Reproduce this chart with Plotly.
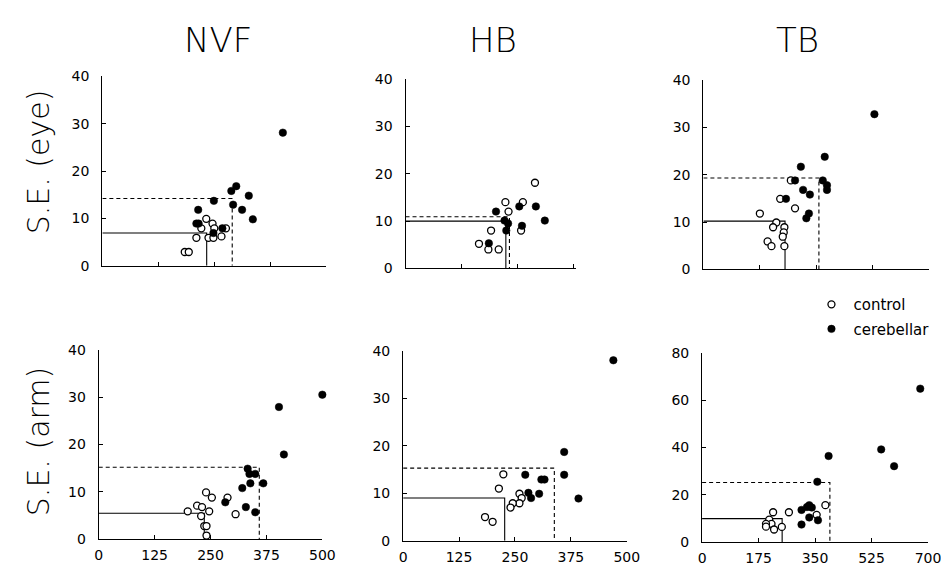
import plotly.graph_objects as go

# ---------------- data ----------------
col_titles = ["NVF", "HB", "TB"]
row_titles = ["S.E. (eye)", "S.E. (arm)"]

# NVF, eye
nvf_eye_ctrl_x = [232, 246, 221, 250, 276, 266, 210, 237, 248, 184, 193]
nvf_eye_ctrl_y = [9.9, 8.9, 7.9, 7.9, 7.9, 6.2, 5.9, 5.9, 5.9, 2.9, 2.9]
nvf_eye_cer_x = [403, 299, 288, 327, 249, 292, 312, 214, 336, 210, 215, 268, 248]
nvf_eye_cer_y = [28.1, 16.8, 15.8, 14.8, 13.7, 12.9, 11.8, 11.8, 9.8, 8.9, 8.9, 7.9, 6.9]
nvf_eye_ctrl_mean = [233, 6.9]
nvf_eye_cer_mean = [290, 14.2]

# HB, eye
hb_eye_ctrl_x = [289, 223, 262, 230, 191, 258, 164, 185, 208]
hb_eye_ctrl_y = [18.1, 14.0, 14.0, 12.0, 8.0, 8.0, 5.2, 4.0, 4.0]
hb_eye_cer_x = [202, 254, 291, 311, 221, 229, 260, 225, 186]
hb_eye_cer_y = [12.0, 13.1, 13.1, 10.1, 10.1, 9.5, 9.0, 8.0, 5.3]
hb_eye_ctrl_mean = [224, 10.0]
hb_eye_cer_mean = [232, 10.9]

# TB, eye
tb_eye_ctrl_x = [271, 238, 284, 175, 226, 216, 251, 249, 246, 199, 211, 251]
tb_eye_ctrl_y = [18.8, 14.9, 12.9, 11.8, 9.9, 8.9, 8.9, 7.8, 6.9, 5.9, 4.9, 4.9]
tb_eye_cer_x = [530, 376, 302, 284, 370, 383, 383, 309, 330, 256, 327, 319]
tb_eye_cer_y = [32.8, 23.8, 21.7, 18.8, 18.8, 17.8, 16.8, 16.8, 15.8, 14.9, 11.8, 10.8]
tb_eye_ctrl_mean = [253, 10.2]
tb_eye_cer_mean = [358, 19.3]

# NVF, arm
nvf_arm_ctrl_x = [240, 253, 288, 220, 231, 199, 247, 229, 306, 236, 241, 241]
nvf_arm_ctrl_y = [9.9, 8.8, 8.8, 7.1, 6.8, 5.9, 5.9, 4.9, 5.3, 2.8, 2.8, 0.8]
nvf_arm_cer_x = [500, 403, 414, 333, 337, 350, 339, 368, 321, 283, 329, 350]
nvf_arm_cer_y = [30.5, 27.9, 17.9, 14.9, 13.8, 13.8, 11.8, 11.8, 10.8, 7.8, 6.8, 5.7]
nvf_arm_ctrl_mean = [236, 5.5]
nvf_arm_cer_mean = [359, 15.2]

# HB, arm
hb_arm_ctrl_x = [224, 214, 260, 265, 260, 245, 240, 183, 200]
hb_arm_ctrl_y = [14.0, 11.0, 9.9, 9.0, 7.9, 7.9, 7.0, 5.0, 4.0]
hb_arm_cer_x = [470, 360, 360, 392, 273, 309, 316, 280, 304, 286]
hb_arm_cer_y = [38.0, 18.7, 13.9, 8.9, 13.9, 12.9, 12.9, 10.1, 9.9, 9.0]
hb_arm_ctrl_mean = [227, 9.0]
hb_arm_cer_mean = [338, 15.3]

# TB, arm
tb_arm_ctrl_x = [382, 355, 220, 208, 215, 198, 198, 223, 247, 269]
tb_arm_ctrl_y = [15.6, 11.5, 12.6, 9.5, 7.7, 7.7, 6.5, 5.3, 6.4, 12.6]
tb_arm_cer_x = [676, 555, 595, 392, 357, 325, 332, 340, 308, 332, 359, 308]
tb_arm_cer_y = [64.9, 39.2, 32.1, 36.4, 25.5, 14.8, 15.6, 14.6, 13.6, 10.4, 9.2, 7.4]
tb_arm_ctrl_mean = [248, 9.9]
tb_arm_cer_mean = [396, 25.2]

nvf_xticks = [0, 125, 250, 375, 500]
hb_xticks = [0, 125, 250, 375, 500]
tb_xticks = [0, 175, 350, 525, 700]
se_ticks_40 = [0, 10, 20, 30, 40]
se_ticks_80 = [0, 20, 40, 60, 80]

# ---------------- layout helpers ----------------
W, H = 949, 568

def fx(px):
    return px / W

def fy(py):
    return 1 - py / H

panels = [
    dict(ctrl=(nvf_eye_ctrl_x, nvf_eye_ctrl_y), cer=(nvf_eye_cer_x, nvf_eye_cer_y),
         cm=nvf_eye_ctrl_mean, dm=nvf_eye_cer_mean,
         xpx=(92, 320), ypx=(257, 62), xr=[0, 500], yr=[0, 40],
         xt=nvf_xticks, yt=se_ticks_40, xl=False),
    dict(ctrl=(hb_eye_ctrl_x, hb_eye_ctrl_y), cer=(hb_eye_cer_x, hb_eye_cer_y),
         cm=hb_eye_ctrl_mean, dm=hb_eye_cer_mean,
         xpx=(400.7, 574), ypx=(259.7, 65), xr=[0, 380], yr=[0, 40],
         xt=hb_xticks, yt=se_ticks_40, xl=False),
    dict(ctrl=(tb_eye_ctrl_x, tb_eye_ctrl_y), cer=(tb_eye_cer_x, tb_eye_cer_y),
         cm=tb_eye_ctrl_mean, dm=tb_eye_cer_mean,
         xpx=(704, 934), ypx=(260.7, 66), xr=[0, 700], yr=[0, 40],
         xt=tb_xticks, yt=se_ticks_40, xl=False),
    dict(ctrl=(nvf_arm_ctrl_x, nvf_arm_ctrl_y), cer=(nvf_arm_cer_x, nvf_arm_cer_y),
         cm=nvf_arm_ctrl_mean, dm=nvf_arm_cer_mean,
         xpx=(88.3, 316), ypx=(538.5, 343.3), xr=[0, 500], yr=[0, 40],
         xt=nvf_xticks, yt=se_ticks_40, xl=True),
    dict(ctrl=(hb_arm_ctrl_x, hb_arm_ctrl_y), cer=(hb_arm_cer_x, hb_arm_cer_y),
         cm=hb_arm_ctrl_mean, dm=hb_arm_cer_mean,
         xpx=(398.3, 626), ypx=(540, 344.5), xr=[0, 500], yr=[0, 40],
         xt=hb_xticks, yt=se_ticks_40, xl=True),
    dict(ctrl=(tb_arm_ctrl_x, tb_arm_ctrl_y), cer=(tb_arm_cer_x, tb_arm_cer_y),
         cm=tb_arm_ctrl_mean, dm=tb_arm_cer_mean,
         xpx=(702.7, 932.7), ypx=(541.3, 346.7), xr=[0, 700], yr=[0, 80],
         xt=tb_xticks, yt=se_ticks_80, xl=True),
]

TICKFONT = dict(family="DejaVu Sans", size=14, color="black")
LIGHT = "DejaVu Sans ExtraLight, DejaVu Sans"
fig = go.Figure()
layout = {}

for i, p in enumerate(panels):
    n = "" if i == 0 else str(i + 1)
    xa, ya = "x" + n, "y" + n
    # mean lines (solid = control, dashed = cerebellar)
    for m, dash in ((p["cm"], "solid"), (p["dm"], "4px,3px")):
        fig.add_trace(go.Scatter(
            x=[0, m[0], m[0]], y=[m[1], m[1], 0], mode="lines",
            line=dict(color="black", width=1.1, dash=dash),
            xaxis=xa, yaxis=ya, showlegend=False, hoverinfo="skip"))
    fig.add_trace(go.Scatter(
        x=p["ctrl"][0], y=p["ctrl"][1], mode="markers", name="control",
        marker=dict(symbol="circle", size=7, color="white",
                    line=dict(color="black", width=1.3)),
        xaxis=xa, yaxis=ya, cliponaxis=False,
        showlegend=(i == 0), legendgroup="control"))
    fig.add_trace(go.Scatter(
        x=p["cer"][0], y=p["cer"][1], mode="markers", name="cerebellar",
        marker=dict(symbol="circle", size=7.5, color="black",
                    line=dict(color="black", width=0.5)),
        xaxis=xa, yaxis=ya, cliponaxis=False,
        showlegend=(i == 0), legendgroup="cerebellar"))

    layout["xaxis" + n] = dict(
        domain=[fx(p["xpx"][0]), fx(p["xpx"][1])], range=p["xr"], anchor=ya,
        showline=True, linecolor="black", linewidth=1.2, showgrid=False, zeroline=False,
        tickmode="array", tickvals=p["xt"], ticks="inside", ticklen=4, tickcolor="black",
        showticklabels=p["xl"], tickfont=TICKFONT, ticklabelstandoff=3)
    layout["yaxis" + n] = dict(
        domain=[fy(p["ypx"][0]), fy(p["ypx"][1])], range=p["yr"], anchor=xa,
        showline=True, linecolor="black", linewidth=1.2, showgrid=False, zeroline=False,
        tickmode="array", tickvals=p["yt"], ticks="inside", ticklen=4, tickcolor="black",
        tickfont=TICKFONT, ticklabelstandoff=9)

annotations = []
TITLEFONT = dict(family=LIGHT, size=34, color="black", weight=200)
for t, cx in zip(col_titles, (210, 490, 800)):
    annotations.append(dict(text=t, x=fx(cx), y=fy(25), xref="paper", yref="paper",
                            xanchor="center", yanchor="middle", showarrow=False,
                            font=TITLEFONT))
for t, cy in zip(row_titles, (150, 438)):
    annotations.append(dict(text=t, x=fx(27), y=fy(cy), xref="paper", yref="paper",
                            xanchor="center", yanchor="middle", showarrow=False,
                            textangle=-90,
                            font=dict(family=LIGHT, size=30, color="black", weight=200)))

fig.update_layout(
    width=W, height=H, margin=dict(l=0, r=0, t=0, b=0),
    paper_bgcolor="white", plot_bgcolor="white",
    showlegend=True,
    legend=dict(x=fx(812), y=fy(280), xanchor="left", yanchor="top",
                font=dict(family="DejaVu Sans", size=15, color="black"),
                bgcolor="rgba(0,0,0,0)", itemwidth=34, tracegroupgap=2),
    annotations=annotations,
    **layout)

fig.write_html("out.html")
